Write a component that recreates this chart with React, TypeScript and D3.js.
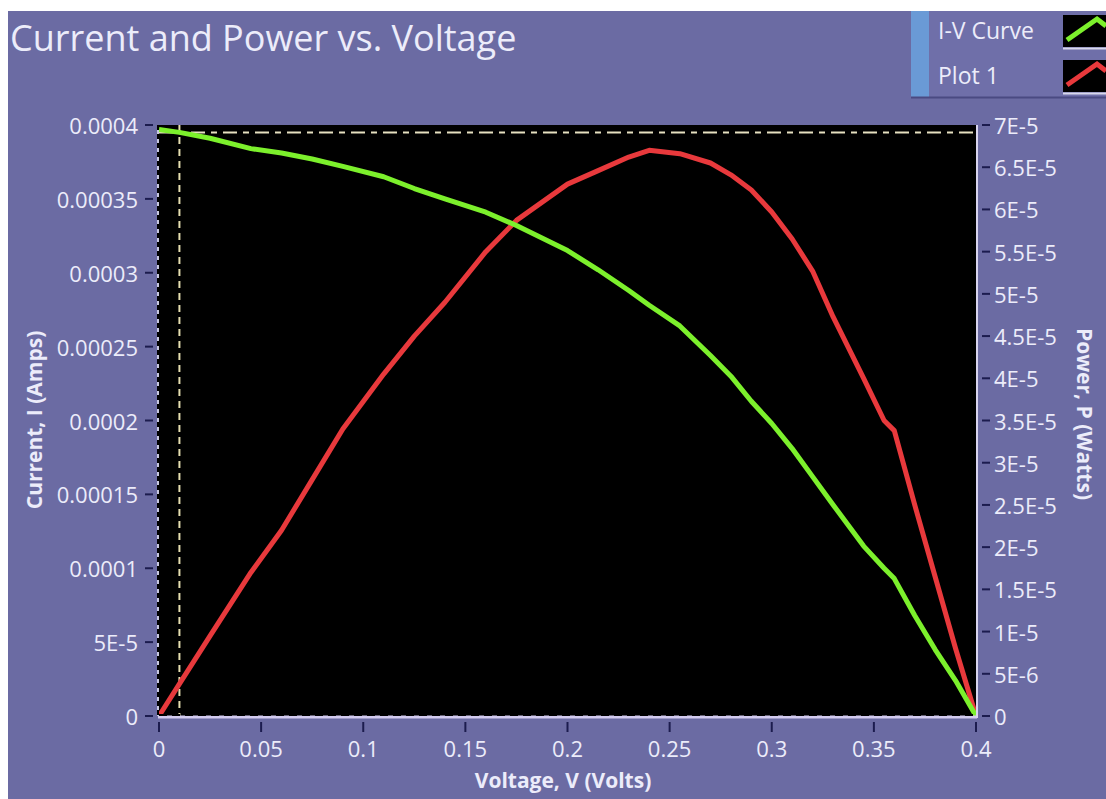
import React from 'react';
import * as d3 from 'd3';

// voltage samples shared by both traces
const voltage = [0, 0.01, 0.025, 0.045, 0.06, 0.075, 0.09, 0.11, 0.125, 0.14, 0.16, 0.175, 0.2, 0.215, 0.23, 0.24, 0.255, 0.27, 0.28, 0.29, 0.3, 0.31, 0.32, 0.33, 0.345, 0.355, 0.36, 0.37, 0.38, 0.39, 0.4];
const current = [0.000397, 0.000395, 0.000391, 0.000384, 0.000381, 0.000377, 0.000372, 0.000365, 0.000357, 0.00035, 0.000341, 0.000332, 0.000315, 0.000302, 0.000288, 0.000278, 0.000264, 0.000244, 0.00023, 0.000213, 0.000198, 0.000181, 0.000162, 0.000143, 0.000115, 0.0001, 0.000093, 0.000068, 0.000045, 0.000024, 0];
const power = [0, 3.8e-6, 9.5e-6, 1.7e-5, 2.2e-5, 2.8e-5, 3.4e-5, 4.05e-5, 4.5e-5, 4.9e-5, 5.5e-5, 5.87e-5, 6.3e-5, 6.46e-5, 6.62e-5, 6.7e-5, 6.66e-5, 6.55e-5, 6.41e-5, 6.23e-5, 5.97e-5, 5.65e-5, 5.27e-5, 4.73e-5, 4.0e-5, 3.5e-5, 3.38e-5, 2.5e-5, 1.65e-5, 8e-6, 0];

const voltTicks = [0, 0.05, 0.1, 0.15, 0.2, 0.25, 0.3, 0.35, 0.4];
const voltLabels = ['0', '0.05', '0.1', '0.15', '0.2', '0.25', '0.3', '0.35', '0.4'];
const currentTicks = [0, 5e-5, 1e-4, 1.5e-4, 2e-4, 2.5e-4, 3e-4, 3.5e-4, 4e-4];
const currentLabels = ['0', '5E-5', '0.0001', '0.00015', '0.0002', '0.00025', '0.0003', '0.00035', '0.0004'];
const powerTicks = [0, 5e-6, 1e-5, 1.5e-5, 2e-5, 2.5e-5, 3e-5, 3.5e-5, 4e-5, 4.5e-5, 5e-5, 5.5e-5, 6e-5, 6.5e-5, 7e-5];
const powerLabels = ['0', '5E-6', '1E-5', '1.5E-5', '2E-5', '2.5E-5', '3E-5', '3.5E-5', '4E-5', '4.5E-5', '5E-5', '5.5E-5', '6E-5', '6.5E-5', '7E-5'];

const cursorV = 0.01;
const cursorI = 0.000395;

const legendNames = ['I-V Curve', 'Plot 1'];

const BG = '#6b6ba3';
const TEXT = '#ececfa';
const TICK = '#1c1c4e';
const GREEN = '#7cf02c';
const RED = '#e8393c';
const FONT = '"Open Sans", "Noto Sans", sans-serif';

const App = () => {
  const left = 159, right = 976, top = 125, bottom = 716;

  const x = d3.scaleLinear().domain([0, 0.4]).range([left, right]);
  const yI = d3.scaleLinear().domain([0, 0.0004]).range([bottom, top]);
  const yP = d3.scaleLinear().domain([0, 7e-5]).range([bottom, top]);

  const ivLine = d3.line<number>()
    .x((_, i) => x(voltage[i]))
    .y(d => yI(d));
  const pLine = d3.line<number>()
    .x((_, i) => x(voltage[i]))
    .y(d => yP(d));

  return (
    <svg width={1106} height={799} style={{ position: 'fixed', left: 0, top: 0 }}>
      <rect x={0} y={0} width={1106} height={799} fill="#fff" />
      <rect x={8} y={11} width={1098} height={788} fill={BG} />

      {/* title */}
      <text x={10} y={51} fill={TEXT} fontFamily={FONT} fontSize={36}>
        Current and Power vs. Voltage
      </text>

      {/* legend */}
      <g fontFamily={FONT}>
        <rect x={929} y={11} width={177} height={87} fill="#6f6fa9" />
        <rect x={911} y={11} width={18} height={87} fill="#6a9ad6" />
        <line x1={911} x2={1106} y1={97.5} y2={97.5} stroke="#4a4a82" strokeWidth={2} />
        {legendNames.map((name, i) => {
          const oy = i * 45;
          const col = i === 0 ? GREEN : RED;
          return (
            <g key={name}>
              <text x={938} y={39 + oy} fill={TEXT} fontSize={23}>{name}</text>
              <rect x={1063} y={15 + oy} width={43} height={32} fill="#000" />
              <line x1={1063} x2={1106} y1={48.5 + oy} y2={48.5 + oy} stroke="#d8d8ec" strokeWidth={2} />
              <polyline
                points={`1067,${40 + oy} 1097,${19 + oy} 1106,${26 + oy}`}
                fill="none"
                stroke={col}
                strokeWidth={5}
              />
            </g>
          );
        })}
      </g>

      {/* plot area */}
      <rect x={left} y={top} width={right - left} height={bottom - top} fill="#000" />

      {/* cursors */}
      <line x1={x(cursorV)} x2={x(cursorV)} y1={top} y2={bottom} stroke="#e6dfb0" strokeWidth={2} strokeDasharray="7 5" />
      <line x1={left} x2={right} y1={yI(cursorI)} y2={yI(cursorI)} stroke="#e6e0c0" strokeWidth={2} strokeDasharray="14 6 6 6" />

      {/* curves */}
      <path d={pLine(power) || ''} fill="none" stroke={RED} strokeWidth={5} strokeLinejoin="round" />
      <path d={ivLine(current) || ''} fill="none" stroke={GREEN} strokeWidth={5} strokeLinejoin="round" />

      {/* frame */}
      <line x1={left - 1} x2={right + 1} y1={bottom + 1} y2={bottom + 1} stroke="#d4ccf0" strokeWidth={3} />
      <line x1={left} x2={right} y1={bottom - 1} y2={bottom - 1} stroke="#000" strokeWidth={2} strokeDasharray="8 5" />
      <line x1={left - 1} x2={left - 1} y1={top} y2={bottom} stroke="#c8c8e0" strokeWidth={2} />
      <line x1={left - 1} x2={left - 1} y1={top} y2={bottom} stroke="#000" strokeWidth={2} strokeDasharray="5 4" />
      <line x1={right + 1} x2={right + 1} y1={top} y2={bottom + 2} stroke="#d8d4ee" strokeWidth={2} />

      {/* left axis */}
      <g fontFamily={FONT} fontSize={22} fill={TEXT}>
        {currentTicks.map((t, i) => (
          <g key={'c' + i}>
            <line x1={145} x2={153} y1={yI(t)} y2={yI(t)} stroke={TICK} strokeWidth={2} />
            <text x={138} y={yI(t)} textAnchor="end" dominantBaseline="central">{currentLabels[i]}</text>
          </g>
        ))}
      </g>

      {/* right axis */}
      <g fontFamily={FONT} fontSize={22} fill={TEXT}>
        {powerTicks.map((t, i) => (
          <g key={'p' + i}>
            <line x1={982} x2={990} y1={yP(t)} y2={yP(t)} stroke={TICK} strokeWidth={2} />
            <text x={994} y={yP(t)} dominantBaseline="central">{powerLabels[i]}</text>
          </g>
        ))}
      </g>

      {/* bottom axis */}
      <g fontFamily={FONT} fontSize={22} fill={TEXT}>
        {voltTicks.map((t, i) => (
          <g key={'v' + i}>
            <line x1={x(t)} x2={x(t)} y1={722} y2={732} stroke={TICK} strokeWidth={2} />
            <text x={x(t)} y={757} textAnchor="middle">{voltLabels[i]}</text>
          </g>
        ))}
      </g>

      {/* axis titles */}
      <g fontFamily={FONT} fontSize={21} fontWeight={700} fill={TEXT}>
        <text x={563} y={788} textAnchor="middle">Voltage, V (Volts)</text>
        <text transform="translate(34,420) rotate(-90)" textAnchor="middle" dominantBaseline="central">Current, I (Amps)</text>
        <text transform="translate(1085,414) rotate(90)" textAnchor="middle" dominantBaseline="central">Power, P (Watts)</text>
      </g>
    </svg>
  );
};

export default App;
